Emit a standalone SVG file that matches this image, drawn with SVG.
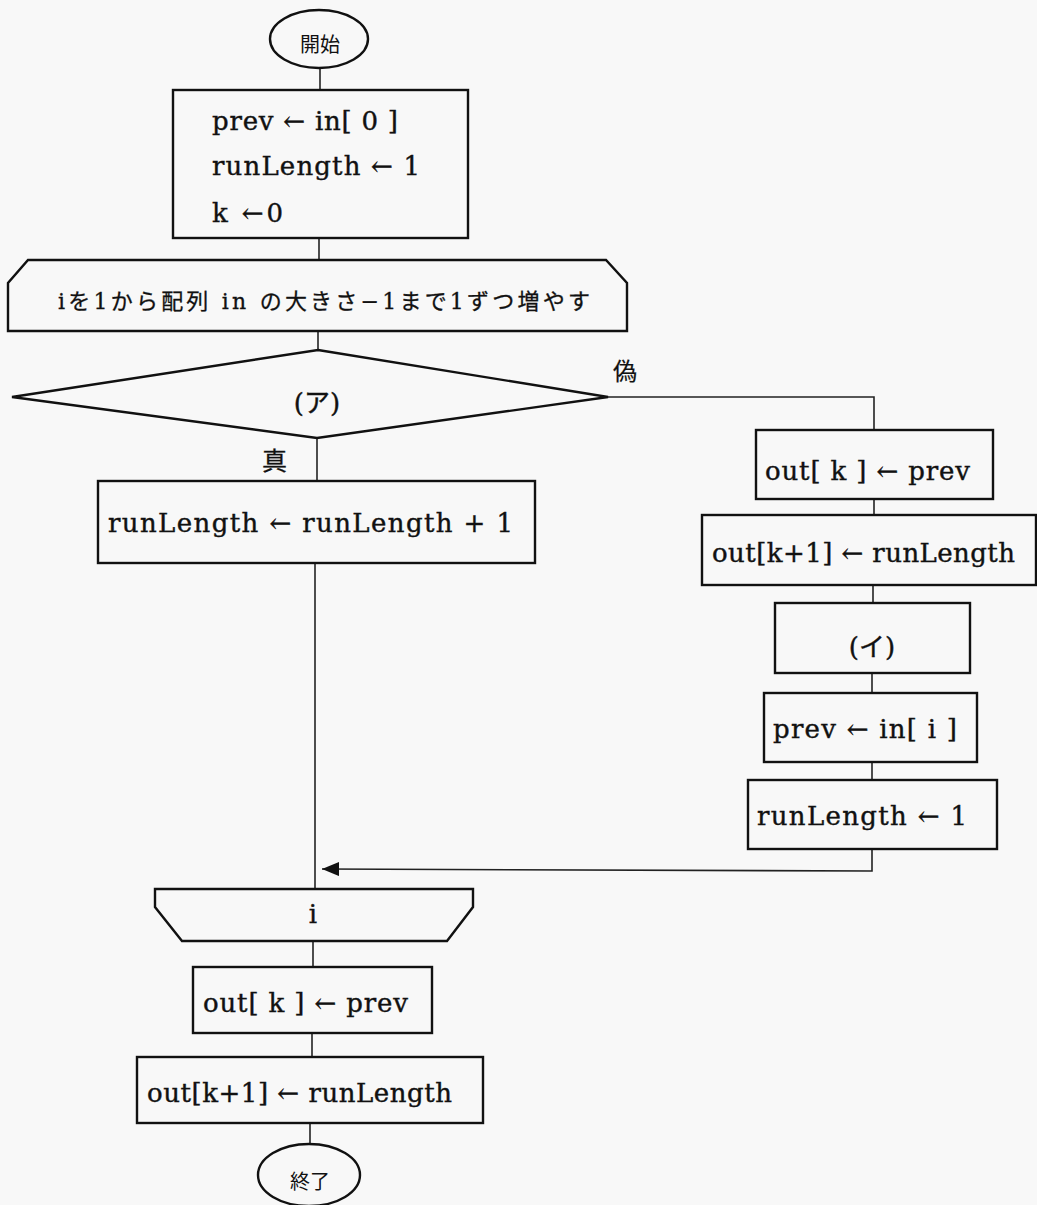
<svg xmlns="http://www.w3.org/2000/svg" width="1037" height="1205" viewBox="0 0 1037 1205">
<style>
.bg{fill:#f8f8f8}
.sh{fill:#f8f8f8;stroke:#111;stroke-width:2.4}
.cn{fill:none;stroke:#222;stroke-width:1.6}
.t{font-family:"DejaVu Serif","Noto Sans CJK JP",serif;font-size:26px;fill:#111;stroke:#111;stroke-width:0.4}
.j{font-family:"Noto Sans CJK JP",sans-serif;font-size:20px;fill:#111}
.m{text-anchor:middle}
</style>
<defs>
<marker id="ah" markerWidth="18" markerHeight="14" refX="17" refY="7" orient="auto" markerUnits="userSpaceOnUse">
<path d="M0,0 L17,7 L0,14 Z" fill="#111"/>
</marker>
</defs>
<rect class="bg" x="0" y="0" width="1037" height="1205"/>
<g id="connectors">
<line class="cn" x1="320" y1="68" x2="320" y2="90"/>
<line class="cn" x1="319" y1="238" x2="319" y2="260"/>
<line class="cn" x1="318" y1="330" x2="318" y2="350"/>
<line class="cn" x1="317" y1="438" x2="317" y2="481"/>
<line class="cn" x1="315" y1="563" x2="315" y2="889"/>
<polyline class="cn" points="608,397 874,397 874,430"/>
<line class="cn" x1="874" y1="499" x2="874" y2="515"/>
<line class="cn" x1="873" y1="585" x2="873" y2="603"/>
<line class="cn" x1="872" y1="673" x2="872" y2="693"/>
<line class="cn" x1="872" y1="762" x2="872" y2="780"/>
<polyline class="cn" points="872,849 872,871 322,869" marker-end="url(#ah)"/>
<line class="cn" x1="313" y1="941" x2="313" y2="967"/>
<line class="cn" x1="312" y1="1033" x2="312" y2="1057"/>
<line class="cn" x1="310" y1="1123" x2="310" y2="1144"/>
</g>
<g id="start">
<ellipse class="sh" cx="319" cy="39" rx="49" ry="29"/>
<text class="j m" x="320" y="52">開始</text>
</g>
<g id="init">
<rect class="sh" x="173" y="90" width="295" height="148"/>
<text class="t" x="212" y="130" textLength="186" lengthAdjust="spacing">prev ← in[ 0 ]</text>
<text class="t" x="212" y="175" textLength="208" lengthAdjust="spacing">runLength ← 1</text>
<text class="t" x="212" y="222" textLength="71" lengthAdjust="spacing">k ←0</text>
</g>
<g id="loop-start">
<polygon class="sh" points="28,260 606,260 627,283 627,331 8,331 8,283"/>
<text class="t" x="58" y="309" style="font-size:22px;stroke-width:0.3" textLength="532" lengthAdjust="spacing">iを1から配列 in の大きさ−1まで1ずつ増やす</text>
</g>
<g id="decision">
<polygon class="sh" points="318,350 608,397 317,438 12,397"/>
<text class="t m" x="317" y="412">(ア)</text>
<text class="t" x="613" y="380" style="font-size:24px;stroke-width:0.2">偽</text>
<text class="t" x="262" y="470" style="font-size:25px;stroke-width:0.3">真</text>
</g>
<g id="inc">
<rect class="sh" x="98" y="481" width="437" height="82"/>
<text class="t" x="108" y="532" textLength="405" lengthAdjust="spacing">runLength ← runLength + 1</text>
</g>
<g id="r-out-k">
<rect class="sh" x="756" y="430" width="237" height="69"/>
<text class="t" x="765" y="480" textLength="205" lengthAdjust="spacing">out[ k ] ← prev</text>
</g>
<g id="r-out-k1">
<rect class="sh" x="702" y="515" width="334" height="70"/>
<text class="t" x="712" y="562" textLength="303" lengthAdjust="spacing">out[k+1] ← runLength</text>
</g>
<g id="blank-i">
<rect class="sh" x="775" y="603" width="195" height="70"/>
<text class="t m" x="872" y="656">(イ)</text>
</g>
<g id="r-prev">
<rect class="sh" x="764" y="693" width="213" height="69"/>
<text class="t" x="773" y="738" textLength="184" lengthAdjust="spacing">prev ← in[ i ]</text>
</g>
<g id="r-run">
<rect class="sh" x="748" y="780" width="249" height="69"/>
<text class="t" x="757" y="825" textLength="210" lengthAdjust="spacing">runLength ← 1</text>
</g>
<g id="loop-end">
<polygon class="sh" points="155,889 473,889 473,907 447,941 182,941 155,907"/>
<text class="t m" x="313" y="923">i</text>
</g>
<g id="out-k">
<rect class="sh" x="193" y="967" width="239" height="66"/>
<text class="t" x="203" y="1012" textLength="205" lengthAdjust="spacing">out[ k ] ← prev</text>
</g>
<g id="out-k1">
<rect class="sh" x="137" y="1057" width="346" height="66"/>
<text class="t" x="147" y="1102" textLength="305" lengthAdjust="spacing">out[k+1] ← runLength</text>
</g>
<g id="end">
<ellipse class="sh" cx="309" cy="1175" rx="51" ry="31"/>
<text class="j m" x="310" y="1189">終了</text>
</g>
</svg>
